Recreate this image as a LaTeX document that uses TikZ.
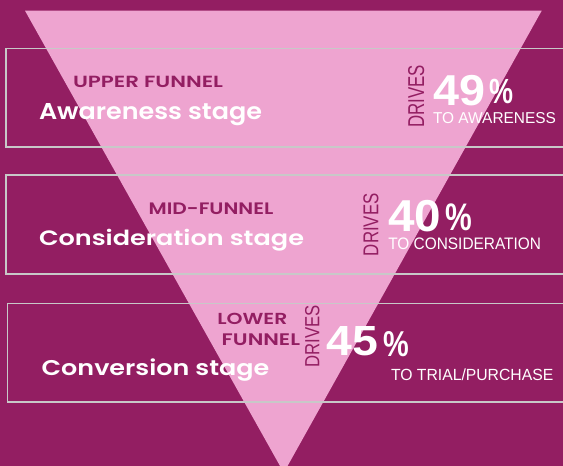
\documentclass[tikz,border=0pt]{standalone}
\usepackage{fontspec}
\usepackage{graphicx}
\newfontfamily\pop{Poppins SemiBold}
\newfontfamily\ari{Liberation Sans}
\definecolor{bgmag}{HTML}{931E62}
\definecolor{funpink}{HTML}{EEA4D0}
\definecolor{framegray}{HTML}{C8C8C8}
\tikzset{
  lbl/.style={inner sep=0pt, outer sep=0pt, anchor=base west},
  stagebox/.style={draw=framegray, line width=1.6pt},
  drives/.style={lbl, rotate=90, text=bgmag},
}
\begin{document}
\begin{tikzpicture}[x=1pt,y=-1pt]
\useasboundingbox (0,0) rectangle (563,466);
\fill[bgmag] (0,0) rectangle (563,466);
\begin{scope}
\clip (0,0) rectangle (563,466);
\fill[funpink] (25,10.7) -- (541.7,10.7) -- (283.8,472.7) -- cycle;
\draw[stagebox] (5.7,48.3) rectangle (575,146.7);
\draw[stagebox] (5.7,174.7) rectangle (575,274);
\draw[stagebox] (7.3,303.3) rectangle (575,402);
\end{scope}
% row 1
\node[lbl, text=bgmag] (up) at (73,87.3) {\resizebox{150pt}{11.3pt}{\pop UPPER FUNNEL}};
\node[lbl, text=white] (aw) at (39,119) {\resizebox{223pt}{16pt}{\pop Awareness stage}};
\node[drives] (d1) at (424,127.7) {\resizebox{62.7pt}{16pt}{\ari DRIVES}};
\node[lbl, text=white] (n1) at (433,105.2) {\resizebox{52pt}{30.2pt}{\ari\bfseries 49}};
\node[lbl, text=white] (p1) at (489,103.3) {\resizebox{24pt}{24.3pt}{\ari\bfseries\%}};
\node[lbl, text=white] (t1) at (433,123.3) {\resizebox{123pt}{11pt}{\ari TO AWARENESS}};
% row 2
\node[lbl, text=bgmag] (mid) at (148.7,214.3) {\resizebox{124.6pt}{11.6pt}{\pop MID-FUNNEL}};
\node[lbl, text=white] (co) at (39,245) {\resizebox{265pt}{16.3pt}{\pop Consideration stage}};
\node[drives] (d2) at (378.3,256) {\resizebox{62.7pt}{15pt}{\ari DRIVES}};
\node[lbl, text=white] (n2) at (388,231.2) {\resizebox{53pt}{31.2pt}{\ari\bfseries 40}};
\node[lbl, text=white] (p2) at (445,230) {\resizebox{26.7pt}{26.7pt}{\ari\bfseries\%}};
\node[lbl, text=white] (t2) at (388.3,249.3) {\resizebox{152.7pt}{11.6pt}{\ari TO CONSIDERATION}};
% row 3
\node[lbl, text=bgmag] (lo1) at (217.3,324) {\resizebox{70pt}{11.3pt}{\pop LOWER}};
\node[lbl, text=bgmag] (lo2) at (221.7,345) {\resizebox{78.3pt}{11.7pt}{\pop FUNNEL}};
\node[lbl, text=white] (cv) at (41.7,375) {\resizebox{227.6pt}{16.7pt}{\pop Conversion stage}};
\node[drives] (d3) at (319.3,367.3) {\resizebox{62.3pt}{14.3pt}{\ari DRIVES}};
\node[lbl, text=white] (n3) at (326.7,355) {\resizebox{51.6pt}{29pt}{\ari\bfseries 45}};
\node[lbl, text=white] (p3) at (383.3,356.7) {\resizebox{25.7pt}{25pt}{\ari\bfseries\%}};
\node[lbl, text=white] (t3) at (391,380) {\resizebox{162.3pt}{11.7pt}{\ari TO TRIAL/PURCHASE}};
\end{tikzpicture}
\end{document}
